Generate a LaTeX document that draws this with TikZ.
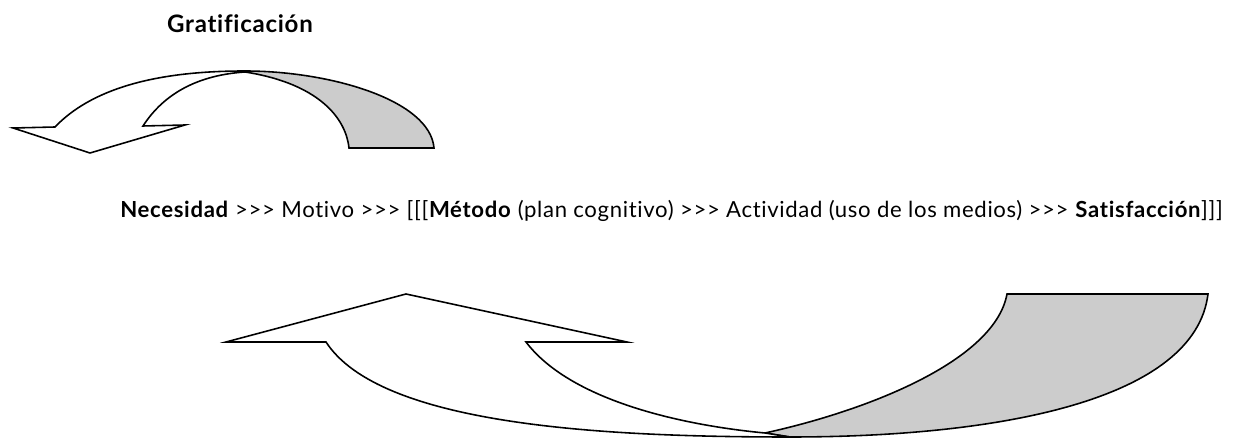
\documentclass[tikz,border=0pt]{standalone}
\usepackage{fontspec}
\setmainfont{Lato}[Ligatures=NoCommon,LetterSpace=3]
\usetikzlibrary{positioning}

\begin{document}
\begin{tikzpicture}[x=0.02cm,y=-0.02cm,
    ribbon/.style={draw=black,line width=0.9pt,fill=white,line join=miter},
    backside/.style={draw=black,line width=0.9pt,fill=gray!40},
    txt/.style={inner sep=0pt,font=\fontsize{12.6}{15}\selectfont}]
    \useasboundingbox (0,0) rectangle (1241,438);
    % text
    \node[txt,anchor=base,font=\fontsize{13.7}{16}\selectfont] (grat) at (240,33) {\bfseries Gratificación};
    \node[txt,anchor=base west] (chain) at (120,218) {\textbf{Necesidad} >{}>{}> Motivo >{}>{}> [[[\textbf{Método} (plan cognitivo) >{}>{}> Actividad (uso de los medios) >{}>{}> \textbf{Satisfacción}]]]};
    % upper arrow
    \begin{scope}
      \draw[backside] (245,71) .. controls (330,71) and (430,100) .. (434,148)
        -- (349,148) .. controls (345,112) and (310,82) .. (245,72) -- cycle;
      \draw[ribbon] (143,126) -- (185,125) -- (90,153) -- (13,128) -- (55,127)
        .. controls (100,80) and (180,71) .. (245,71)
        -- (245,72) .. controls (200,75) and (165,92) .. (143,126) -- cycle;
    \end{scope}
    % lower arrow
    \begin{scope}
      \draw[backside] (765,433) .. controls (870,410) and (995,360) .. (1007,294)
        -- (1208,294) .. controls (1195,400) and (1000,437) .. (790,437) -- cycle;
      \draw[ribbon] (526,342) -- (627,342) -- (406,294) -- (226,342) -- (326,342)
        .. controls (380,425) and (600,437) .. (790,437)
        -- (765,433) .. controls (680,425) and (570,400) .. (526,342) -- cycle;
    \end{scope}
  \end{tikzpicture}
\end{document}
